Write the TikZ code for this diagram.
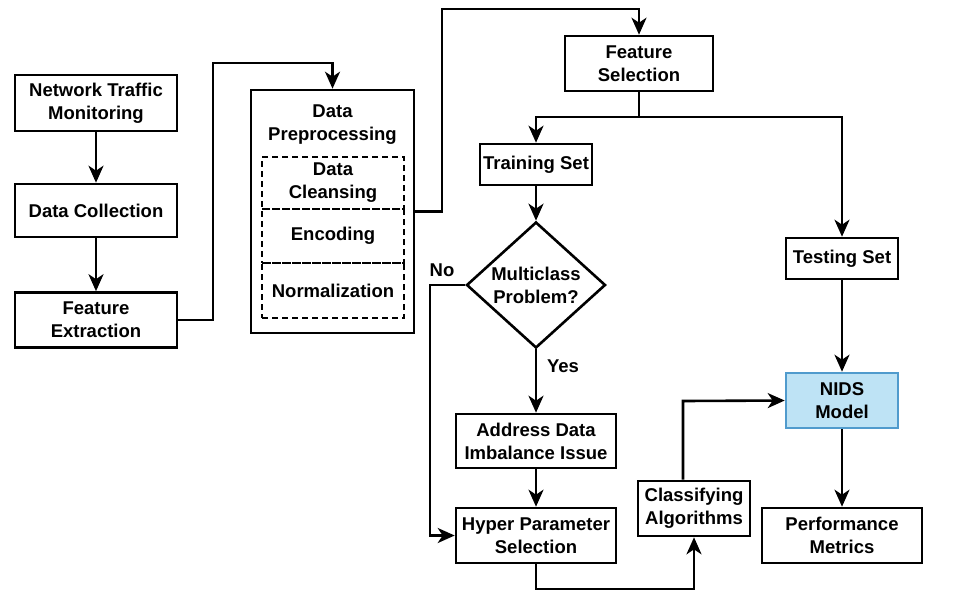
\documentclass[tikz,border=0pt]{standalone}
\usepackage{fontspec}
\setmainfont{Liberation Sans}
\usetikzlibrary{arrows.meta,shapes.geometric}

\definecolor{nidsfill}{RGB}{190,227,245}
\definecolor{nidsdraw}{RGB}{80,155,205}

\begin{document}
\begin{tikzpicture}[x=1pt,y=-1pt,->,>={Stealth[length=17pt,width=15pt,inset=5pt]},line width=2.6pt,
  box node/.style={rectangle,draw,align=center,inner sep=0pt,minimum height=55pt,
    font=\fontsize{18.5}{23}\selectfont\bfseries},
  cell node/.style={box node,dashed,dash pattern=on 6pt off 4pt,minimum width=142pt},
  label node/.style={font=\fontsize{18.5}{23}\selectfont\bfseries}]

 \useasboundingbox (0,0) rectangle (973,592);

 \node[box node,minimum width=162pt,minimum height=56pt] (monitor) at (96,103) {Network Traffic\\Monitoring};
 \node[box node,minimum width=162pt,minimum height=53pt] (collect) at (96,210.5) {Data Collection};
 \node[box node,minimum width=162pt] (extract) at (96,320) {Feature\\Extraction};

 \node[box node,minimum width=163pt,minimum height=243pt] (prep) at (332.5,211.5) {};
 \node[label node,align=center] (prephead) at (332.5,125) {Data\\Preprocessing};
 \node[cell node,minimum height=52pt] (cleanse) at (333,183) {Data\\Cleansing};
 \node[cell node,minimum height=54pt] (encode) at (333,236) {Encoding};
 \node[cell node,minimum height=55pt] (normal) at (333,290.5) {Normalization};

 \node[box node,minimum width=148pt] (select) at (639,63.5) {Feature\\Selection};
 \node[box node,minimum width=112pt,minimum height=41pt] (train) at (536,164.5) {Training Set};
 \node[box node,minimum width=112pt,minimum height=41pt] (test) at (842,258.5) {Testing Set};
 \node[diamond,draw,align=center,inner sep=0pt,minimum width=139pt,minimum height=120pt,
   font=\fontsize{18.5}{23}\selectfont\bfseries] (decide) at (536,285) {Multiclass\\Problem?};
 \node[box node,minimum width=160pt,minimum height=54pt] (balance) at (536,441) {Address Data\\Imbalance Issue};
 \node[box node,minimum width=160pt] (tune) at (536,535.5) {Hyper Parameter\\Selection};
 \node[box node,minimum width=112pt] (classify) at (694,508.5) {Classifying\\Algorithms};
 \node[box node,minimum width=112pt,fill=nidsfill,draw=nidsdraw] (nids) at (842,400.5) {NIDS\\Model};
 \node[box node,minimum width=160pt] (metrics) at (842,535.5) {Performance\\Metrics};

 \node[label node] (no) at (442,270) {No};
 \node[label node] (yes) at (563,366) {Yes};

 % bends
 \coordinate (up1) at (213,63);
 \coordinate (up2) at (442,9);
 \coordinate (split) at (639,117);
 \coordinate (nobend) at (430,285);
 \coordinate (down1) at (536,589);
 \coordinate (up3) at (683,401);

 \draw (monitor) -- (collect);
 \draw (collect) -- (extract);
 \draw (extract.east) -| (up1) -| (prep.north);
 \draw (prep.east) -| (up2) -| (select.north);
 \draw[-] (select) -- (split);
 \draw (split) -| (train.north);
 \draw (split) -| (test.north);
 \draw (train) -- (decide);
 \draw (decide.west) -- (nobend) |- (tune.west);
 \draw (decide.south) -- (balance.north);
 \draw (balance) -- (tune);
 \draw (tune.south) -- (down1) -| (classify.south);
 \draw (classify.north -| up3) -- (up3) -- (nids.west);
 \draw (test) -- (nids);
 \draw (nids) -- (metrics);

\end{tikzpicture}
\end{document}
